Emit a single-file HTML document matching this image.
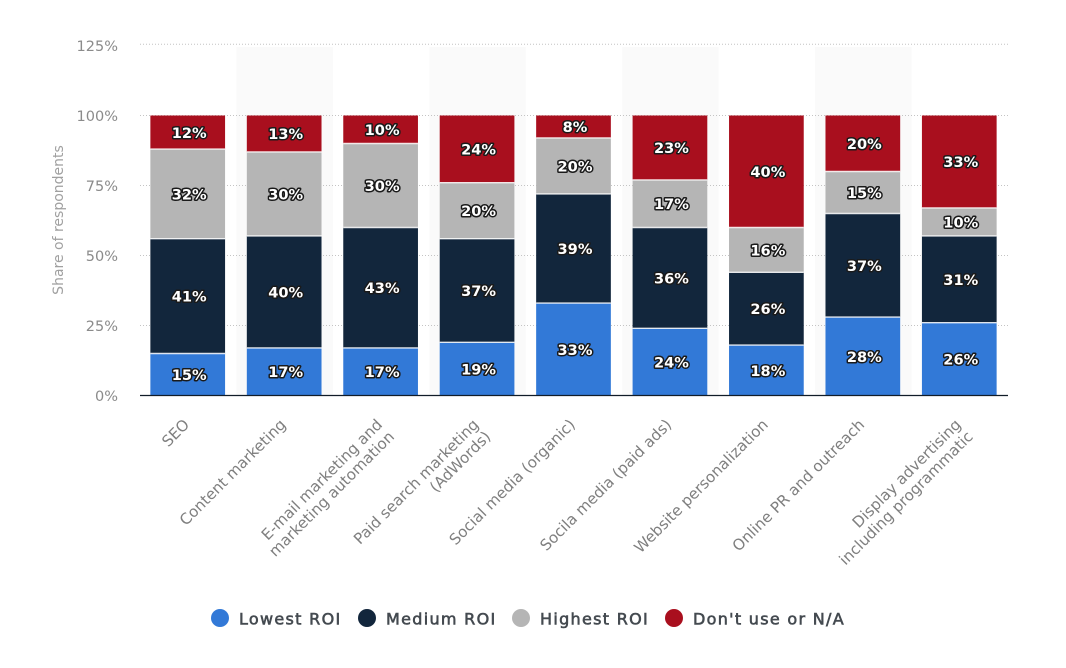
<!DOCTYPE html>
<html lang="en">
<head>
<meta charset="utf-8">
<title>ROI by marketing channel</title>
<style>
html,body{margin:0;padding:0;background:#fff;width:1066px;height:668px;overflow:hidden}
svg{display:block;font-family:"DejaVu Sans","Liberation Sans",sans-serif;filter:blur(.3px)}
.tick{font-size:14.5px;fill:#8b8b8b;text-anchor:end}
.cat{font-size:15.2px;fill:#7f7f7f;text-anchor:end}
.val{font-size:14.6px;font-weight:bold;fill:#fff;text-anchor:middle;stroke:#1a1a1a;stroke-width:3px;paint-order:stroke fill;stroke-linejoin:round}
.leg{font-size:16px;fill:#444a50;letter-spacing:1.3px;stroke:#444a50;stroke-width:.6px}
</style>
</head>
<body>
<svg id="chart" width="1066" height="668" viewBox="0 0 1066 668" xmlns="http://www.w3.org/2000/svg">
  <g id="bands"></g>
  <g id="grid"></g>
  <g id="yticks"></g>
  <text transform="translate(63,220) rotate(-90)" text-anchor="middle" font-size="14" fill="#a0a0a0">Share of respondents</text>
  <g id="bars"></g>
  <line x1="140" x2="1008" y1="395.5" y2="395.5" stroke="#111c28" stroke-width="1.2"></line>
  <g id="xticks"></g>
  <g id="legend"></g>
</svg>
<script>
const categories = ["SEO","Content marketing","E-mail marketing and\nmarketing automation","Paid search marketing\n(AdWords)","Social media (organic)","Socila media (paid ads)","Website personalization","Online PR and outreach","Display advertising\nincluding programmatic"];
const lowestRoi = [15,17,17,19,33,24,18,28,26];
const mediumRoi = [41,40,43,37,39,36,26,37,31];
const highestRoi = [32,30,30,20,20,17,16,15,10];
const dontUse = [12,13,10,24,8,23,40,20,33];
const yTicks = [0,25,50,75,100,125];
const seriesNames = ["Lowest ROI","Medium ROI","Highest ROI","Don't use or N/A"];

const seriesValues = [lowestRoi, mediumRoi, highestRoi, dontUse];
const seriesColors = ["#3279d7","#12263c","#b5b5b5","#a90f1e"];
const NS = "http://www.w3.org/2000/svg";
const plotLeft = 140, plotRight = 1008, baseY = 395.5, pxPerUnit = 2.8, barWidth = 74.7;
const bandW = (plotRight - plotLeft) / categories.length;
const yScale = v => baseY - v * pxPerUnit;
const xCenter = i => plotLeft + bandW * (i + 0.5) - 0.5;
function mk(tag, parent, attrs, text) {
  const el = document.createElementNS(NS, tag);
  for (const k in attrs) el.setAttribute(k, attrs[k]);
  if (text !== undefined) el.textContent = text;
  parent.appendChild(el);
  return el;
}
const bandsG = document.getElementById("bands");
const gridG = document.getElementById("grid");
const yG = document.getElementById("yticks");
const barsG = document.getElementById("bars");
const xG = document.getElementById("xticks");
const legG = document.getElementById("legend");

categories.forEach((c, i) => {
  if (i % 2 === 1) {
    const b = mk("rect", bandsG, {x: plotLeft + bandW * i, y: 47, width: bandW, height: baseY - 47, fill: "#fafafa"});
    
    
  }
});
yTicks.forEach(t => {
  const y = yScale(t);
  if (t > 0) {
    const gy = t > 100 ? y - 1.3 : y;
    const l = mk("line", gridG, {x1: plotLeft, x2: plotRight, y1: gy, y2: gy, stroke: "#c4c4c4", "stroke-width": 1, "stroke-dasharray": "1 2"});
    
    
  }
  const tx = mk("text", yG, {class: "tick", x: 118, y: y + 5.5}, t + "%");
  
  
});
categories.forEach((c, i) => {
  let cum = 0;
  const cx = xCenter(i);
  const labels = [];
  seriesValues.forEach((vals, s) => {
    const v = vals[i];
    const yTop = yScale(cum + v), yBot = yScale(cum);
    const r = mk("rect", barsG, {x: cx - barWidth / 2, y: yTop, width: barWidth, height: yBot - yTop, fill: seriesColors[s], stroke: "#fff", "stroke-width": 0});
    
    
    if (s > 0) {
      const sep = mk("line", barsG, {x1: cx - barWidth / 2, x2: cx + barWidth / 2, y1: yBot, y2: yBot, stroke: "#fff", "stroke-opacity": 0.85, "stroke-width": 1.4});
      
      
    }
    labels.push([v, (yTop + yBot) / 2 + 5.5]);
    cum += v;
  });
  labels.forEach(p => {
    const t = mk("text", barsG, {class: "val", x: cx + 1.5, y: p[1]}, p[0] + "%");
    
    
  });
  const lines = c.split("\n");
  const g = mk("g", xG, {transform: "translate(" + (cx - 1) + ",422) rotate(-45)"});
  
  
  lines.forEach((ln, k) => {
    mk("text", g, {class: "cat", x: 0, y: k * 17 + 5}, ln);
  });
});
const legX = [220, 367, 521, 674];
seriesNames.forEach((n, s) => {
  const g = mk("g", legG, {});
  
  
  mk("circle", g, {cx: legX[s], cy: 618, r: 9, fill: seriesColors[s]});
  mk("text", g, {class: "leg", x: legX[s] + 19, y: 624.5}, n);
});
</script>
</body>
</html>
